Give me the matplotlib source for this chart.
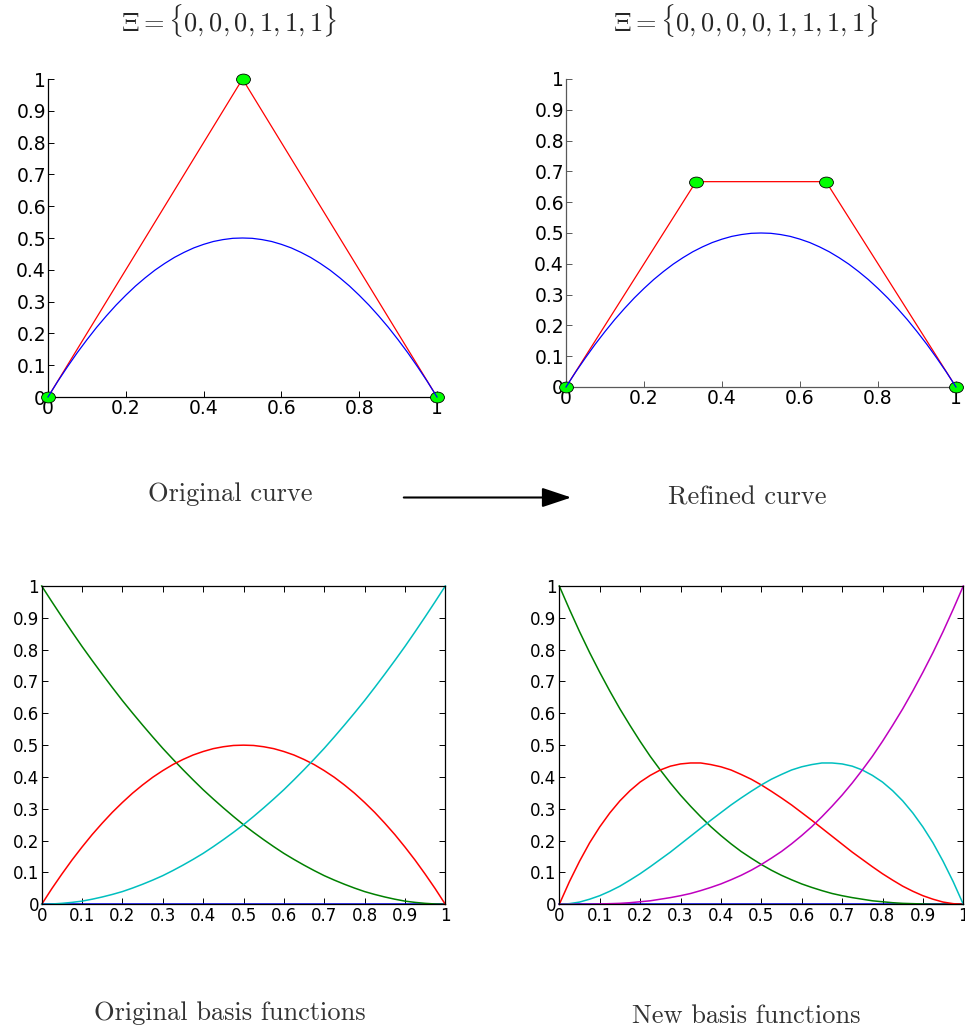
import matplotlib
matplotlib.use("Agg")
import matplotlib.pyplot as plt
from matplotlib.path import Path
from matplotlib.transforms import Affine2D
from matplotlib.patches import FancyArrowPatch

# ---------------- data ----------------
titles = [r"$\Xi = \{0,0,0,1,1,1\}$", r"$\Xi = \{0,0,0,0,1,1,1,1\}$"]
captions_top = ["Original curve", "Refined curve"]
captions_bottom = ["Original basis functions", "New basis functions"]

# control polygons
ctrl_orig_x = [0.0, 0.5, 1.0]
ctrl_orig_y = [0.0, 1.0, 0.0]
ctrl_ref_x = [0.0, 0.3333, 0.6667, 1.0]
ctrl_ref_y = [0.0, 0.6667, 0.6667, 0.0]

# sample abscissae
xs = [0.000, 0.025, 0.050, 0.075, 0.100, 0.125, 0.150, 0.175, 0.200, 0.225,
      0.250, 0.275, 0.300, 0.325, 0.350, 0.375, 0.400, 0.425, 0.450, 0.475,
      0.500, 0.525, 0.550, 0.575, 0.600, 0.625, 0.650, 0.675, 0.700, 0.725,
      0.750, 0.775, 0.800, 0.825, 0.850, 0.875, 0.900, 0.925, 0.950, 0.975, 1.000]

# curve (same in both top panels)
curve_y = [0.000, 0.049, 0.095, 0.139, 0.180, 0.219, 0.255, 0.289, 0.320, 0.349,
           0.375, 0.399, 0.420, 0.439, 0.455, 0.469, 0.480, 0.489, 0.495, 0.499,
           0.500, 0.499, 0.495, 0.489, 0.480, 0.469, 0.455, 0.439, 0.420, 0.399,
           0.375, 0.349, 0.320, 0.289, 0.255, 0.219, 0.180, 0.139, 0.095, 0.049, 0.000]

# original basis functions
orig_blue = [0.0] * 41
orig_green = [1.000, 0.951, 0.903, 0.856, 0.810, 0.766, 0.723, 0.681, 0.640, 0.601,
              0.563, 0.526, 0.490, 0.456, 0.423, 0.391, 0.360, 0.331, 0.303, 0.276,
              0.250, 0.226, 0.203, 0.181, 0.160, 0.141, 0.123, 0.106, 0.090, 0.076,
              0.063, 0.051, 0.040, 0.031, 0.023, 0.016, 0.010, 0.006, 0.003, 0.001, 0.000]
orig_red = [0.000, 0.049, 0.095, 0.139, 0.180, 0.219, 0.255, 0.289, 0.320, 0.349,
            0.375, 0.399, 0.420, 0.439, 0.455, 0.469, 0.480, 0.489, 0.495, 0.499,
            0.500, 0.499, 0.495, 0.489, 0.480, 0.469, 0.455, 0.439, 0.420, 0.399,
            0.375, 0.349, 0.320, 0.289, 0.255, 0.219, 0.180, 0.139, 0.095, 0.049, 0.000]
orig_cyan = [0.000, 0.001, 0.003, 0.006, 0.010, 0.016, 0.023, 0.031, 0.040, 0.051,
             0.063, 0.076, 0.090, 0.106, 0.123, 0.141, 0.160, 0.181, 0.203, 0.226,
             0.250, 0.276, 0.303, 0.331, 0.360, 0.391, 0.423, 0.456, 0.490, 0.526,
             0.563, 0.601, 0.640, 0.681, 0.723, 0.766, 0.810, 0.856, 0.903, 0.951, 1.000]

# new basis functions
new_blue = [0.0] * 41
new_green = [1.000, 0.927, 0.857, 0.791, 0.729, 0.670, 0.614, 0.562, 0.512, 0.465,
             0.422, 0.381, 0.343, 0.308, 0.275, 0.244, 0.216, 0.190, 0.166, 0.145,
             0.125, 0.107, 0.091, 0.077, 0.064, 0.053, 0.043, 0.034, 0.027, 0.021,
             0.016, 0.011, 0.008, 0.005, 0.003, 0.002, 0.001, 0.000, 0.000, 0.000, 0.000]
new_red = [0.000, 0.071, 0.135, 0.193, 0.243, 0.287, 0.325, 0.357, 0.384, 0.405,
           0.422, 0.434, 0.441, 0.444, 0.444, 0.439, 0.432, 0.422, 0.408, 0.393,
           0.375, 0.355, 0.334, 0.312, 0.288, 0.264, 0.239, 0.214, 0.189, 0.164,
           0.141, 0.118, 0.096, 0.076, 0.057, 0.041, 0.027, 0.016, 0.007, 0.002, 0.000]
new_cyan = [0.000, 0.002, 0.007, 0.016, 0.027, 0.041, 0.057, 0.076, 0.096, 0.118,
            0.141, 0.164, 0.189, 0.214, 0.239, 0.264, 0.288, 0.312, 0.334, 0.355,
            0.375, 0.393, 0.408, 0.422, 0.432, 0.439, 0.444, 0.444, 0.441, 0.434,
            0.422, 0.405, 0.384, 0.357, 0.325, 0.287, 0.243, 0.193, 0.135, 0.071, 0.000]
new_magenta = [0.000, 0.000, 0.000, 0.000, 0.001, 0.002, 0.003, 0.005, 0.008, 0.011,
               0.016, 0.021, 0.027, 0.034, 0.043, 0.053, 0.064, 0.077, 0.091, 0.107,
               0.125, 0.145, 0.166, 0.190, 0.216, 0.244, 0.275, 0.308, 0.343, 0.381,
               0.422, 0.465, 0.512, 0.562, 0.614, 0.670, 0.729, 0.791, 0.857, 0.927, 1.000]

top_xticks = [0, 0.2, 0.4, 0.6, 0.8, 1]
top_xticklabels = ["0", "0.2", "0.4", "0.6", "0.8", "1"]
yticks = [0, 0.1, 0.2, 0.3, 0.4, 0.5, 0.6, 0.7, 0.8, 0.9, 1]
yticklabels = ["0", "0.1", "0.2", "0.3", "0.4", "0.5", "0.6", "0.7", "0.8", "0.9", "1"]
bot_xticks = [0, 0.1, 0.2, 0.3, 0.4, 0.5, 0.6, 0.7, 0.8, 0.9, 1]
bot_xticklabels = ["0", "0.1", "0.2", "0.3", "0.4", "0.5", "0.6", "0.7", "0.8", "0.9", "1"]

# ---------------- style ----------------
plt.rcParams['mathtext.fontset'] = 'cm'
C_BLUE = (0, 0, 1)
C_GREEN = (0, 0.5, 0)
C_RED = (1, 0, 0)
C_CYAN = (0, 0.75, 0.75)
C_MAG = (0.75, 0, 0.75)

W, H = 965, 1034
fig = plt.figure(figsize=(W / 100, H / 100), dpi=100)


def px_axes(l, t, r, b):
    return fig.add_axes([l / W, 1 - b / H, (r - l) / W, (b - t) / H])


ellipse = Path.unit_circle().transformed(Affine2D().scale(1.0, 0.78))


def style_top(ax, spine_color):
    ax.set_xlim(0, 1)
    ax.set_ylim(0, 1)
    for s in ['top', 'right']:
        ax.spines[s].set_visible(False)
    for s in ['left', 'bottom']:
        ax.spines[s].set_color(spine_color)
        ax.spines[s].set_linewidth(0.9)
    ax.set_xticks(top_xticks)
    ax.set_xticklabels(top_xticklabels)
    ax.set_yticks(yticks)
    ax.set_yticklabels(yticklabels)
    ax.tick_params(direction='in', length=4, width=0.7, pad=1.5,
                   color=spine_color, labelcolor='black',
                   labelsize=13.5, labelfontfamily='DejaVu Sans')


def style_bottom(ax):
    ax.set_xlim(0, 1)
    ax.set_ylim(0, 1)
    for s in ax.spines.values():
        s.set_linewidth(0.9)
    ax.set_xticks(bot_xticks)
    ax.set_xticklabels(bot_xticklabels)
    ax.set_yticks(yticks)
    ax.set_yticklabels(yticklabels)
    ax.tick_params(direction='in', length=4, width=0.7, pad=2,
                   top=True, right=True,
                   labelsize=12, labelfontfamily='DejaVu Sans')


# top-left
ax1 = px_axes(48, 79, 437, 397)
ax1.plot(ctrl_orig_x, ctrl_orig_y, '-', color=C_RED, lw=0.9, marker=ellipse,
         markersize=10, markerfacecolor=(0, 1, 0), markeredgecolor='black',
         markeredgewidth=0.6, clip_on=False, zorder=3)
ax1.plot(xs, curve_y, '-', color=C_BLUE, lw=0.9, clip_on=False, zorder=4)
style_top(ax1, 'black')

# top-right
ax2 = px_axes(566, 79, 956, 387)
ax2.plot(ctrl_ref_x, ctrl_ref_y, '-', color=C_RED, lw=0.9, marker=ellipse,
         markersize=10, markerfacecolor=(0, 1, 0), markeredgecolor='black',
         markeredgewidth=0.6, clip_on=False, zorder=3)
ax2.plot(xs, curve_y, '-', color=C_BLUE, lw=0.9, clip_on=False, zorder=4)
style_top(ax2, '0.35')

# bottom-left
ax3 = px_axes(41.7, 586, 445.3, 904.3)
for ys, c in [(orig_blue, C_BLUE), (orig_green, C_GREEN), (orig_red, C_RED), (orig_cyan, C_CYAN)]:
    ax3.plot(xs, ys, '-', color=c, lw=1.1, clip_on=False)
style_bottom(ax3)

# bottom-right
ax4 = px_axes(559.3, 586, 963.3, 904.3)
for ys, c in [(new_blue, C_BLUE), (new_green, C_GREEN), (new_red, C_RED),
              (new_cyan, C_CYAN), (new_magenta, C_MAG)]:
    ax4.plot(xs, ys, '-', color=c, lw=1.1, clip_on=False)
style_bottom(ax4)

# texts
fig.text(229 / W, 1 - 21 / H, titles[0], ha='center', va='center', fontsize=19, color='0.15')
fig.text(746 / W, 1 - 21 / H, titles[1], ha='center', va='center', fontsize=19, color='0.15')
fig.text(230 / W, 1 - 494 / H, captions_top[0], ha='center', va='center', fontsize=19,
         family='cmr10', color='0.2')
fig.text(747 / W, 1 - 498 / H, captions_top[1], ha='center', va='center', fontsize=19,
         family='cmr10', color='0.2')
fig.text(230 / W, 1 - 1013 / H, captions_bottom[0], ha='center', va='center', fontsize=19,
         family='cmr10', color='0.2')
fig.text(746 / W, 1 - 1016 / H, captions_bottom[1], ha='center', va='center', fontsize=19,
         family='cmr10', color='0.2')

arrow = FancyArrowPatch((401 / W, 1 - 497.5 / H), (574 / W, 1 - 497.5 / H),
                        transform=fig.transFigure, arrowstyle='-|>,head_length=18,head_width=6',
                        mutation_scale=1, lw=1.5, color='black')
fig.patches.append(arrow)

fig.savefig('out.png', dpi=100)
